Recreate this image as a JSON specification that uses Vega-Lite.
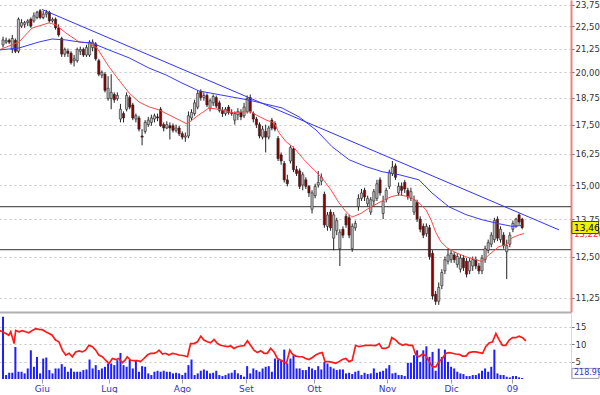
{
  "$schema": "https://vega.github.io/schema/vega-lite/v6.json",
  "padding": {"left": -5, "top": 0, "right": 0, "bottom": 0},
  "spacing": 1,
  "config": {"view": {"stroke": null}, "font": "DejaVu Sans"},
  "datasets": {
    "candles": [
      {"i":0,"o":21.45,"h":21.9,"l":21.3,"c":21.72,"v":1890},
      {"i":1,"o":21.6,"h":21.85,"l":21.5,"c":21.7,"v":120},
      {"i":2,"o":21.7,"h":21.8,"l":21.5,"c":21.6,"v":190},
      {"i":3,"o":21.2,"h":22.0,"l":21.0,"c":21.8,"v":190},
      {"i":4,"o":21.7,"h":21.8,"l":21.0,"c":21.1,"v":970},
      {"i":5,"o":21.1,"h":23.0,"l":21.0,"c":22.9,"v":220},
      {"i":6,"o":22.5,"h":22.9,"l":22.4,"c":22.7,"v":220},
      {"i":7,"o":22.6,"h":22.8,"l":22.4,"c":22.7,"v":170},
      {"i":8,"o":22.7,"h":22.9,"l":22.5,"c":22.8,"v":320},
      {"i":9,"o":22.9,"h":23.0,"l":22.4,"c":22.5,"v":870},
      {"i":10,"o":22.8,"h":23.3,"l":22.7,"c":23.1,"v":370},
      {"i":11,"o":23.0,"h":23.4,"l":22.9,"c":23.3,"v":670},
      {"i":12,"o":23.4,"h":23.5,"l":22.9,"c":23.0,"v":170},
      {"i":13,"o":23.0,"h":23.4,"l":22.9,"c":23.2,"v":620},
      {"i":14,"o":23.2,"h":23.45,"l":23.0,"c":23.3,"v":650},
      {"i":15,"o":23.3,"h":23.4,"l":22.7,"c":22.8,"v":270},
      {"i":16,"o":22.8,"h":23.0,"l":22.7,"c":22.9,"v":170},
      {"i":17,"o":22.9,"h":23.0,"l":22.3,"c":22.4,"v":320},
      {"i":18,"o":22.4,"h":22.6,"l":21.9,"c":22.0,"v":320},
      {"i":19,"o":21.8,"h":21.9,"l":20.8,"c":20.95,"v":450},
      {"i":20,"o":20.95,"h":21.3,"l":20.8,"c":21.2,"v":370},
      {"i":21,"o":21.1,"h":21.25,"l":20.8,"c":21.0,"v":220},
      {"i":22,"o":21.0,"h":21.1,"l":20.4,"c":20.5,"v":320},
      {"i":23,"o":20.6,"h":20.9,"l":20.3,"c":20.7,"v":220},
      {"i":24,"o":20.6,"h":21.3,"l":20.5,"c":21.2,"v":220},
      {"i":25,"o":21.1,"h":21.35,"l":20.9,"c":21.2,"v":220},
      {"i":26,"o":21.2,"h":21.3,"l":20.8,"c":20.9,"v":270},
      {"i":27,"o":20.9,"h":21.45,"l":20.8,"c":21.3,"v":290},
      {"i":28,"o":20.9,"h":21.7,"l":20.8,"c":21.6,"v":590},
      {"i":29,"o":21.3,"h":21.75,"l":21.1,"c":21.6,"v":320},
      {"i":30,"o":21.5,"h":21.6,"l":20.6,"c":20.7,"v":420},
      {"i":31,"o":20.6,"h":20.7,"l":19.8,"c":19.9,"v":270},
      {"i":32,"o":19.85,"h":20.1,"l":19.7,"c":20.0,"v":320},
      {"i":33,"o":19.9,"h":20.0,"l":19.0,"c":19.1,"v":370},
      {"i":34,"o":18.7,"h":19.8,"l":18.6,"c":19.2,"v":470},
      {"i":35,"o":18.7,"h":19.9,"l":18.2,"c":19.0,"v":470},
      {"i":36,"o":18.9,"h":19.0,"l":18.5,"c":18.65,"v":420},
      {"i":37,"o":18.7,"h":19.0,"l":18.6,"c":18.85,"v":570},
      {"i":38,"o":17.75,"h":18.45,"l":17.6,"c":18.2,"v":790},
      {"i":39,"o":18.0,"h":18.1,"l":17.6,"c":17.8,"v":420},
      {"i":40,"o":18.2,"h":19.0,"l":18.1,"c":18.85,"v":370},
      {"i":41,"o":18.75,"h":18.85,"l":18.2,"c":18.3,"v":590},
      {"i":42,"o":18.4,"h":18.5,"l":17.7,"c":17.8,"v":320},
      {"i":43,"o":17.75,"h":18.0,"l":17.6,"c":17.9,"v":570},
      {"i":44,"o":17.8,"h":17.9,"l":17.2,"c":17.3,"v":220},
      {"i":45,"o":17.0,"h":17.3,"l":16.6,"c":16.95,"v":390},
      {"i":46,"o":17.2,"h":17.7,"l":17.1,"c":17.6,"v":370},
      {"i":47,"o":17.5,"h":17.85,"l":17.4,"c":17.7,"v":170},
      {"i":48,"o":17.6,"h":17.95,"l":17.45,"c":17.8,"v":120},
      {"i":49,"o":17.75,"h":18.0,"l":17.6,"c":17.9,"v":220},
      {"i":50,"o":17.85,"h":18.0,"l":17.65,"c":17.8,"v":250},
      {"i":51,"o":18.2,"h":18.3,"l":17.4,"c":17.45,"v":220},
      {"i":52,"o":17.5,"h":17.6,"l":17.2,"c":17.35,"v":250},
      {"i":53,"o":17.35,"h":17.65,"l":17.3,"c":17.5,"v":220},
      {"i":54,"o":17.45,"h":17.6,"l":16.85,"c":17.35,"v":220},
      {"i":55,"o":17.45,"h":17.55,"l":17.15,"c":17.25,"v":170},
      {"i":56,"o":17.25,"h":17.5,"l":17.15,"c":17.35,"v":190},
      {"i":57,"o":17.35,"h":17.45,"l":17.0,"c":17.1,"v":170},
      {"i":58,"o":17.1,"h":17.2,"l":16.85,"c":16.95,"v":120},
      {"i":59,"o":16.95,"h":17.15,"l":16.75,"c":17.0,"v":190},
      {"i":60,"o":17.0,"h":18.1,"l":16.9,"c":17.9,"v":420},
      {"i":61,"o":17.8,"h":18.2,"l":17.7,"c":18.05,"v":590},
      {"i":62,"o":18.0,"h":18.65,"l":17.9,"c":18.5,"v":120},
      {"i":63,"o":18.3,"h":19.1,"l":18.2,"c":18.95,"v":170},
      {"i":64,"o":19.05,"h":19.15,"l":18.6,"c":18.75,"v":250},
      {"i":65,"o":18.75,"h":19.0,"l":18.6,"c":18.85,"v":290},
      {"i":66,"o":18.85,"h":18.95,"l":18.3,"c":18.4,"v":250},
      {"i":67,"o":18.25,"h":18.7,"l":18.1,"c":18.6,"v":170},
      {"i":68,"o":18.5,"h":18.9,"l":18.35,"c":18.8,"v":190},
      {"i":69,"o":18.75,"h":18.85,"l":18.25,"c":18.35,"v":250},
      {"i":70,"o":18.5,"h":18.6,"l":18.05,"c":18.15,"v":120},
      {"i":71,"o":18.15,"h":18.3,"l":17.85,"c":18.0,"v":90},
      {"i":72,"o":18.0,"h":18.3,"l":17.9,"c":18.2,"v":120},
      {"i":73,"o":18.3,"h":18.4,"l":17.95,"c":18.05,"v":170},
      {"i":74,"o":18.05,"h":18.2,"l":17.9,"c":18.0,"v":190},
      {"i":75,"o":17.7,"h":18.1,"l":17.5,"c":18.0,"v":270},
      {"i":76,"o":17.95,"h":18.25,"l":17.7,"c":18.1,"v":170},
      {"i":77,"o":18.05,"h":18.2,"l":17.7,"c":17.85,"v":120},
      {"i":78,"o":17.9,"h":18.5,"l":17.8,"c":18.3,"v":70},
      {"i":79,"o":18.1,"h":18.85,"l":18.0,"c":18.7,"v":390},
      {"i":80,"o":18.75,"h":18.9,"l":18.0,"c":18.1,"v":170},
      {"i":81,"o":18.0,"h":18.1,"l":17.6,"c":17.75,"v":320},
      {"i":82,"o":17.75,"h":17.85,"l":17.35,"c":17.5,"v":270},
      {"i":83,"o":17.5,"h":17.6,"l":16.9,"c":17.0,"v":220},
      {"i":84,"o":16.95,"h":17.45,"l":16.85,"c":17.3,"v":320},
      {"i":85,"o":17.2,"h":17.5,"l":16.3,"c":16.95,"v":370},
      {"i":86,"o":16.95,"h":17.45,"l":16.85,"c":17.35,"v":390},
      {"i":87,"o":17.7,"h":17.8,"l":17.25,"c":17.35,"v":220},
      {"i":88,"o":17.55,"h":17.65,"l":17.2,"c":17.3,"v":620},
      {"i":89,"o":16.9,"h":17.0,"l":15.95,"c":16.05,"v":590},
      {"i":90,"o":16.2,"h":16.3,"l":15.8,"c":15.95,"v":550},
      {"i":91,"o":15.85,"h":15.95,"l":15.1,"c":15.2,"v":890},
      {"i":92,"o":15.2,"h":15.4,"l":14.95,"c":15.05,"v":470},
      {"i":93,"o":15.95,"h":16.6,"l":15.85,"c":16.5,"v":620},
      {"i":94,"o":16.45,"h":16.55,"l":15.5,"c":15.6,"v":720},
      {"i":95,"o":15.6,"h":15.75,"l":15.35,"c":15.45,"v":320},
      {"i":96,"o":15.55,"h":15.65,"l":14.85,"c":14.95,"v":320},
      {"i":97,"o":15.0,"h":15.5,"l":14.8,"c":15.4,"v":270},
      {"i":98,"o":15.2,"h":15.3,"l":14.85,"c":14.95,"v":270},
      {"i":99,"o":14.95,"h":15.0,"l":14.55,"c":14.7,"v":370},
      {"i":100,"o":14.1,"h":14.8,"l":13.95,"c":14.7,"v":320},
      {"i":101,"o":14.6,"h":15.05,"l":14.5,"c":14.95,"v":270},
      {"i":102,"o":15.0,"h":15.55,"l":14.9,"c":15.1,"v":390},
      {"i":103,"o":15.15,"h":15.45,"l":15.0,"c":15.3,"v":290},
      {"i":104,"o":14.65,"h":14.75,"l":13.45,"c":13.55,"v":520},
      {"i":105,"o":13.5,"h":14.0,"l":13.35,"c":13.9,"v":470},
      {"i":106,"o":14.0,"h":14.1,"l":13.35,"c":13.45,"v":370},
      {"i":107,"o":13.1,"h":14.0,"l":12.7,"c":13.9,"v":320},
      {"i":108,"o":13.35,"h":13.8,"l":13.2,"c":13.7,"v":270},
      {"i":109,"o":12.75,"h":13.4,"l":12.2,"c":13.3,"v":290},
      {"i":110,"o":13.4,"h":13.5,"l":13.1,"c":13.2,"v":290},
      {"i":111,"o":13.85,"h":13.95,"l":13.45,"c":13.55,"v":170},
      {"i":112,"o":13.8,"h":13.9,"l":13.1,"c":13.2,"v":190},
      {"i":113,"o":12.75,"h":13.6,"l":12.65,"c":13.5,"v":150},
      {"i":114,"o":13.45,"h":13.7,"l":13.35,"c":13.6,"v":220},
      {"i":115,"o":14.2,"h":14.65,"l":14.05,"c":14.5,"v":250},
      {"i":116,"o":14.5,"h":14.85,"l":14.4,"c":14.7,"v":120},
      {"i":117,"o":14.8,"h":14.9,"l":14.4,"c":14.55,"v":190},
      {"i":118,"o":14.3,"h":14.6,"l":14.2,"c":14.5,"v":150},
      {"i":119,"o":14.0,"h":14.55,"l":13.9,"c":14.45,"v":170},
      {"i":120,"o":14.4,"h":14.85,"l":14.2,"c":14.75,"v":320},
      {"i":121,"o":14.5,"h":15.2,"l":14.4,"c":15.05,"v":190},
      {"i":122,"o":15.2,"h":15.3,"l":14.6,"c":14.7,"v":220},
      {"i":123,"o":13.95,"h":14.6,"l":13.75,"c":14.4,"v":250},
      {"i":124,"o":14.45,"h":14.9,"l":14.35,"c":14.8,"v":320},
      {"i":125,"o":14.95,"h":15.6,"l":14.85,"c":15.5,"v":420},
      {"i":126,"o":15.45,"h":15.95,"l":15.35,"c":15.7,"v":170},
      {"i":127,"o":15.75,"h":15.85,"l":15.2,"c":15.3,"v":190},
      {"i":128,"o":14.7,"h":15.1,"l":14.6,"c":14.95,"v":120},
      {"i":129,"o":14.95,"h":15.1,"l":14.6,"c":14.8,"v":120},
      {"i":130,"o":15.1,"h":15.2,"l":14.7,"c":14.85,"v":90},
      {"i":131,"o":14.8,"h":14.9,"l":14.45,"c":14.55,"v":490},
      {"i":132,"o":14.5,"h":14.9,"l":14.4,"c":14.75,"v":490},
      {"i":133,"o":14.0,"h":14.6,"l":13.9,"c":14.45,"v":720},
      {"i":134,"o":14.35,"h":14.45,"l":13.65,"c":13.75,"v":870},
      {"i":135,"o":13.75,"h":13.85,"l":13.3,"c":13.4,"v":520},
      {"i":136,"o":13.5,"h":13.6,"l":13.1,"c":13.2,"v":870},
      {"i":137,"o":13.25,"h":13.6,"l":13.15,"c":13.5,"v":990},
      {"i":138,"o":13.45,"h":13.55,"l":12.4,"c":12.5,"v":670},
      {"i":139,"o":12.6,"h":12.7,"l":11.2,"c":11.3,"v":820},
      {"i":140,"o":11.35,"h":11.45,"l":11.05,"c":11.15,"v":250},
      {"i":141,"o":11.15,"h":11.7,"l":11.05,"c":11.55,"v":920},
      {"i":142,"o":11.6,"h":12.1,"l":11.5,"c":12.0,"v":670},
      {"i":143,"o":12.05,"h":12.5,"l":11.95,"c":12.4,"v":890},
      {"i":144,"o":12.35,"h":12.75,"l":12.25,"c":12.55,"v":520},
      {"i":145,"o":12.4,"h":12.7,"l":12.3,"c":12.6,"v":370},
      {"i":146,"o":12.55,"h":12.65,"l":12.3,"c":12.4,"v":320},
      {"i":147,"o":12.25,"h":12.6,"l":12.15,"c":12.5,"v":220},
      {"i":148,"o":12.1,"h":12.55,"l":12.0,"c":12.45,"v":170},
      {"i":149,"o":12.45,"h":12.55,"l":12.05,"c":12.15,"v":150},
      {"i":150,"o":12.35,"h":12.45,"l":11.85,"c":11.95,"v":90},
      {"i":151,"o":12.05,"h":12.45,"l":11.95,"c":12.35,"v":90},
      {"i":152,"o":12.2,"h":12.5,"l":12.05,"c":12.4,"v":120},
      {"i":153,"o":12.4,"h":12.5,"l":12.1,"c":12.2,"v":120},
      {"i":154,"o":12.2,"h":12.3,"l":11.95,"c":12.05,"v":170},
      {"i":155,"o":12.05,"h":12.55,"l":11.95,"c":12.45,"v":250},
      {"i":156,"o":12.4,"h":12.85,"l":12.3,"c":12.75,"v":320},
      {"i":157,"o":12.7,"h":13.05,"l":12.6,"c":12.95,"v":220},
      {"i":158,"o":12.9,"h":13.3,"l":12.8,"c":13.2,"v":370},
      {"i":159,"o":13.05,"h":13.8,"l":12.95,"c":13.7,"v":890},
      {"i":160,"o":13.75,"h":13.85,"l":13.0,"c":13.1,"v":170},
      {"i":161,"o":13.05,"h":13.5,"l":12.95,"c":13.4,"v":120},
      {"i":162,"o":13.2,"h":13.3,"l":12.75,"c":12.85,"v":120},
      {"i":163,"o":12.65,"h":13.05,"l":11.8,"c":12.85,"v":70},
      {"i":164,"o":12.9,"h":13.3,"l":12.8,"c":13.2,"v":50},
      {"i":165,"o":13.4,"h":13.7,"l":13.3,"c":13.6,"v":90},
      {"i":166,"o":13.5,"h":13.8,"l":13.45,"c":13.75,"v":90},
      {"i":167,"o":13.9,"h":13.95,"l":13.55,"c":13.65,"v":50},
      {"i":168,"o":13.75,"h":13.8,"l":13.4,"c":13.46,"v":30}
    ],
    "ma1": [
      {"i":-1.3,"p":21.17},{"i":5.2,"p":21.61},{"i":9.4,"p":22.39},{"i":14.9,"p":22.69},{"i":17.2,"p":22.56},
      {"i":20.4,"p":22.1},{"i":24.6,"p":21.61},{"i":27.8,"p":21.55},{"i":30.4,"p":21.28},{"i":34.3,"p":20.28},
      {"i":37.5,"p":19.61},{"i":40.8,"p":18.97},{"i":44,"p":18.54},{"i":47.2,"p":18.31},{"i":50.5,"p":18.17},
      {"i":53.7,"p":17.94},{"i":57,"p":17.71},{"i":59.5,"p":17.53},{"i":63.4,"p":17.94},{"i":66.7,"p":18.26},
      {"i":70.9,"p":18.17},{"i":74.1,"p":18.03},{"i":77.3,"p":18.08},{"i":80.3,"p":18.08},{"i":81.9,"p":17.94},
      {"i":85.1,"p":17.71},{"i":87.7,"p":17.58},{"i":89.3,"p":17.14},{"i":91.6,"p":16.75},{"i":94.2,"p":16.49},
      {"i":97.4,"p":16.0},{"i":100.6,"p":15.6},{"i":103.2,"p":15.28},{"i":106.1,"p":14.82},{"i":108.7,"p":14.34},
      {"i":111,"p":14.01},{"i":112.9,"p":13.82},{"i":115.9,"p":13.96},{"i":119.1,"p":14.19},{"i":122.3,"p":14.38},
      {"i":125.6,"p":14.56},{"i":128.2,"p":14.63},{"i":131.4,"p":14.56},{"i":134.6,"p":14.34},{"i":136.9,"p":14.08},
      {"i":138.5,"p":13.73},{"i":140.1,"p":13.28},{"i":141.7,"p":12.98},{"i":143.7,"p":12.78},{"i":146.6,"p":12.62},
      {"i":149.8,"p":12.49},{"i":153.1,"p":12.4},{"i":155,"p":12.34},{"i":157.3,"p":12.56},{"i":160.5,"p":12.82},
      {"i":162.8,"p":12.88},{"i":164.7,"p":13.11},{"i":167,"p":13.21},{"i":168.6,"p":13.25}
    ],
    "ma2": [
      {"i":-1.3,"p":21.17},{"i":5.2,"p":21.28},{"i":11.7,"p":21.61},{"i":15.9,"p":21.77},{"i":20.4,"p":21.72},
      {"i":24.6,"p":21.61},{"i":28.8,"p":21.55},{"i":34.3,"p":21.17},{"i":40.8,"p":20.75},{"i":47.2,"p":20.22},
      {"i":52.8,"p":19.86},{"i":57.9,"p":19.46},{"i":63.4,"p":19.07},{"i":79.6,"p":18.63},{"i":90.3,"p":18.26},
      {"i":95.8,"p":17.85},{"i":101.3,"p":17.26},{"i":106.5,"p":16.54},{"i":112,"p":16.0},{"i":117.5,"p":15.72},
      {"i":122.7,"p":15.52},{"i":128.2,"p":15.4},{"i":134.6,"p":15.2},{"i":138.8,"p":14.7},{"i":144.3,"p":14.19},
      {"i":149.8,"p":13.91},{"i":155,"p":13.73},{"i":160.5,"p":13.59},{"i":164.7,"p":13.5},{"i":168,"p":13.53}
    ],
    "trend": [{"i":12.6,"p":23.48},{"i":179.9,"p":13.38}],
    "levels": [{"p":14.2},{"p":12.72}],
    "ind": [
      {"i":-1.3,"v":14.0},{"i":-0.2,"v":13.6},{"i":0.9,"v":13.1},{"i":1.9,"v":12.6},{"i":2.5,"v":13.6},{"i":3.0,"v":12.1},
      {"i":3.6,"v":10.2},{"i":4.1,"v":14.0},{"i":5.2,"v":13.6},{"i":6.3,"v":13.9},{"i":7.3,"v":13.6},{"i":8.4,"v":13.3},
      {"i":9.5,"v":14.0},{"i":10.6,"v":14.5},{"i":11.6,"v":14.3},{"i":12.7,"v":14.2},{"i":13.8,"v":13.6},{"i":14.9,"v":13.1},
      {"i":15.9,"v":12.6},{"i":17.0,"v":11.2},{"i":18.1,"v":10.7},{"i":19.2,"v":8.3},{"i":20.3,"v":6.9},{"i":21.4,"v":7.4},
      {"i":22.4,"v":6.4},{"i":23.5,"v":7.8},{"i":24.6,"v":8.1},{"i":25.7,"v":7.8},{"i":26.7,"v":8.3},{"i":27.8,"v":9.7},
      {"i":28.9,"v":9.3},{"i":30.0,"v":8.3},{"i":31.0,"v":6.9},{"i":32.1,"v":6.4},{"i":33.2,"v":5.4},{"i":34.3,"v":4.5},
      {"i":35.4,"v":5.9},{"i":36.5,"v":5.6},{"i":37.5,"v":5.9},{"i":38.6,"v":4.7},{"i":39.5,"v":5.4},{"i":40.2,"v":6.4},
      {"i":41.3,"v":5.4},{"i":42.4,"v":5.3},{"i":43.5,"v":5.3},{"i":44.5,"v":5.0},{"i":45.6,"v":5.9},{"i":46.7,"v":6.9},
      {"i":47.8,"v":7.4},{"i":48.9,"v":7.4},{"i":49.9,"v":7.8},{"i":50.5,"v":8.3},{"i":51.6,"v":7.2},{"i":52.6,"v":7.4},
      {"i":53.7,"v":6.9},{"i":54.8,"v":7.4},{"i":55.9,"v":7.2},{"i":56.9,"v":6.9},{"i":58.6,"v":6.7},{"i":59.7,"v":6.4},
      {"i":60.7,"v":10.2},{"i":61.8,"v":10.2},{"i":62.9,"v":10.7},{"i":64.0,"v":12.3},{"i":65.0,"v":11.2},{"i":66.1,"v":10.7},
      {"i":67.2,"v":10.4},{"i":68.3,"v":11.4},{"i":69.4,"v":10.2},{"i":70.4,"v":9.7},{"i":71.5,"v":9.5},{"i":72.6,"v":9.3},
      {"i":73.7,"v":9.5},{"i":74.7,"v":8.8},{"i":75.8,"v":9.3},{"i":76.9,"v":9.5},{"i":78.0,"v":9.6},{"i":79.1,"v":11.0},
      {"i":80.1,"v":9.7},{"i":81.2,"v":8.3},{"i":82.3,"v":7.6},{"i":83.4,"v":8.1},{"i":84.5,"v":7.4},{"i":85.5,"v":7.4},
      {"i":86.6,"v":8.8},{"i":87.7,"v":7.8},{"i":88.8,"v":5.9},{"i":89.9,"v":5.4},{"i":90.9,"v":5.0},{"i":91.7,"v":4.5},
      {"i":92.8,"v":8.3},{"i":93.6,"v":7.2},{"i":94.7,"v":6.6},{"i":95.8,"v":6.4},{"i":96.9,"v":6.4},{"i":97.9,"v":5.9},
      {"i":99.0,"v":5.6},{"i":100.1,"v":6.2},{"i":101.2,"v":6.9},{"i":102.3,"v":7.4},{"i":103.3,"v":7.6},{"i":104.2,"v":5.0},
      {"i":105.5,"v":5.0},{"i":106.6,"v":4.8},{"i":107.6,"v":4.5},{"i":108.7,"v":5.0},{"i":109.8,"v":5.6},{"i":110.9,"v":5.9},
      {"i":112.0,"v":5.0},{"i":113.0,"v":5.4},{"i":114.1,"v":9.7},{"i":115.2,"v":9.3},{"i":116.3,"v":9.5},{"i":117.3,"v":9.7},
      {"i":118.4,"v":9.7},{"i":119.5,"v":9.7},{"i":120.6,"v":9.6},{"i":121.7,"v":10.2},{"i":122.7,"v":8.8},{"i":123.8,"v":8.8},
      {"i":124.9,"v":9.3},{"i":125.8,"v":11.9},{"i":127.1,"v":11.2},{"i":128.2,"v":10.2},{"i":129.3,"v":9.7},{"i":130.3,"v":10.0},
      {"i":131.4,"v":9.7},{"i":132.5,"v":9.7},{"i":133.6,"v":6.9},{"i":134.6,"v":6.4},{"i":135.7,"v":7.1},{"i":136.8,"v":6.7},
      {"i":137.9,"v":5.0},{"i":139.0,"v":3.5},{"i":140.0,"v":3.5},{"i":141.1,"v":5.0},{"i":142.2,"v":5.9},{"i":143.3,"v":7.4},
      {"i":144.4,"v":7.6},{"i":145.4,"v":7.4},{"i":146.5,"v":7.2},{"i":147.6,"v":7.1},{"i":148.7,"v":6.6},{"i":149.8,"v":6.6},
      {"i":150.8,"v":7.6},{"i":151.9,"v":7.8},{"i":153.0,"v":7.8},{"i":154.1,"v":7.6},{"i":155.2,"v":7.4},{"i":156.2,"v":9.3},
      {"i":157.3,"v":10.4},{"i":158.4,"v":10.7},{"i":159.5,"v":13.1},{"i":160.6,"v":11.2},{"i":161.6,"v":9.7},{"i":162.7,"v":9.7},
      {"i":163.8,"v":11.2},{"i":164.9,"v":11.9},{"i":165.9,"v":11.9},{"i":167.0,"v":12.3},{"i":168.1,"v":11.9},{"i":169.2,"v":11.0}
    ],
    "tagLast": [{"i":183.8,"p":13.46,"t":"13,46"}],
    "tagMa": [{"i":183.8,"p":13.226,"t":"13,226"}],
    "tagVol": [{"i":183.8,"v":170,"t":"218.99"}]
  },
  "vconcat": [
    {
      "width": 572,
      "height": 312,
      "layer": [
        {
          "data": {"name": "levels"},
          "mark": {"type": "rule", "color": "#5a5a5a", "strokeWidth": 1.2},
          "encoding": {
            "y": {"field": "p", "type": "quantitative", "title": null,
              "scale": {"type": "log", "domain": [10.85, 24.05], "nice": false},
              "axis": {"orient": "right", "values": [11.25, 12.5, 13.75, 15, 16.25, 17.5, 18.75, 20, 21.25, 22.5, 23.75],
                "labelExpr": "replace(format(datum.value, '.2f'), '.', ',')",
                "grid": true, "gridColor": "#c4c4c4", "gridDash": [2, 3], "gridWidth": 1,
                "tickSize": 3, "tickColor": "#777", "domainColor": "#f08080", "domainWidth": 2,
                "labelFont": "DejaVu Sans", "labelFontSize": 8.5, "labelColor": "#333", "labelPadding": 1, "labelFlush": false, "labelOverlap": false}}
          }
        },
        {
          "data": {"name": "candles"},
          "mark": {"type": "rule", "color": "#222", "strokeWidth": 1},
          "encoding": {
            "x": {"field": "i", "type": "quantitative", "title": null,
              "scale": {"domain": [-1.3, 183.8], "nice": false, "zero": false, "padding": 0},
              "axis": {"labels": false, "ticks": false, "grid": false, "domain": true, "domainColor": "#b0b0b0", "domainWidth": 2}},
            "y": {"field": "l", "type": "quantitative", "title": null},
            "y2": {"field": "h"}
          }
        },
        {
          "data": {"name": "candles"},
          "mark": {"type": "bar", "size": 2.2, "stroke": "#222", "strokeWidth": 0.6},
          "encoding": {
            "x": {"field": "i", "type": "quantitative", "title": null},
            "y": {"field": "o", "type": "quantitative", "title": null},
            "y2": {"field": "c"},
            "fill": {"condition": {"test": "datum.c >= datum.o", "value": "#bcbcbc"}, "value": "#8e0000"}
          }
        },
        {
          "data": {"name": "ma1"},
          "mark": {"type": "line", "color": "#ff4a4a", "strokeWidth": 1},
          "encoding": {
            "x": {"field": "i", "type": "quantitative", "title": null},
            "y": {"field": "p", "type": "quantitative", "title": null}
          }
        },
        {
          "data": {"name": "ma2"},
          "mark": {"type": "line", "color": "#3a3aff", "strokeWidth": 1},
          "encoding": {
            "x": {"field": "i", "type": "quantitative", "title": null},
            "y": {"field": "p", "type": "quantitative", "title": null}
          }
        },
        {
          "data": {"name": "trend"},
          "mark": {"type": "line", "color": "#3333ff", "strokeWidth": 1},
          "encoding": {
            "x": {"field": "i", "type": "quantitative", "title": null},
            "y": {"field": "p", "type": "quantitative", "title": null}
          }
        },
        {
          "data": {"name": "tagMa"},
          "mark": {"type": "text", "align": "left", "baseline": "middle", "dx": 3, "fontSize": 8.5, "color": "#ff2a2a", "font": "DejaVu Sans"},
          "encoding": {
            "x": {"field": "i", "type": "quantitative", "title": null},
            "y": {"field": "p", "type": "quantitative", "title": null},
            "text": {"field": "t"}
          }
        },
        {
          "data": {"name": "tagLast"},
          "mark": {"type": "point", "shape": "M0.15,-1L4.6,-1L4.6,1L0.15,1Z", "size": 144, "filled": true, "fill": "#f2f200", "stroke": "#444", "strokeWidth": 1, "opacity": 1},
          "encoding": {
            "x": {"field": "i", "type": "quantitative", "title": null},
            "y": {"field": "p", "type": "quantitative", "title": null}
          }
        },
        {
          "data": {"name": "tagLast"},
          "mark": {"type": "text", "align": "left", "baseline": "middle", "dx": 3, "fontSize": 9, "color": "#000", "font": "DejaVu Sans"},
          "encoding": {
            "x": {"field": "i", "type": "quantitative", "title": null},
            "y": {"field": "p", "type": "quantitative", "title": null},
            "text": {"field": "t"}
          }
        }
      ]
    },
    {
      "width": 572,
      "height": 66,
      "resolve": {"scale": {"y": "independent"}},
      "layer": [
        {
          "layer": [
            {
              "data": {"name": "candles"},
              "mark": {"type": "bar", "size": 2, "color": "#1e1eff"},
              "encoding": {
                "x": {"field": "i", "type": "quantitative", "title": null,
                  "scale": {"domain": [-1.3, 183.8], "nice": false, "zero": false, "padding": 0},
                  "axis": {"values": [12.6, 34.3, 57.9, 78.6, 100.6, 124.3, 145, 164.7],
                    "labelExpr": "datum.value < 20 ? 'Giu' : datum.value < 45 ? 'Lug' : datum.value < 68 ? 'Ago' : datum.value < 90 ? 'Set' : datum.value < 112 ? 'Ott' : datum.value < 135 ? 'Nov' : datum.value < 155 ? 'Dic' : '09'",
                    "grid": false, "domain": false, "tickSize": 4, "tickColor": "#999", "labelFlush": false,
                    "labelFont": "DejaVu Sans", "labelFontSize": 9, "labelColor": "#3434c8", "labelPadding": 1}},
                "y": {"field": "v", "type": "quantitative", "axis": null,
                  "scale": {"domain": [0, 2000], "nice": false}}
              }
            },
            {
              "data": {"name": "tagVol"},
              "mark": {"type": "point", "shape": "M0.2,-1L5.6,-1L5.6,1L0.2,1Z", "size": 100, "filled": true, "fill": "#ffffff", "stroke": "#9a9ab0", "strokeWidth": 1, "opacity": 1},
              "encoding": {
                "x": {"field": "i", "type": "quantitative", "title": null},
                "y": {"field": "v", "type": "quantitative", "axis": null}
              }
            },
            {
              "data": {"name": "tagVol"},
              "mark": {"type": "text", "align": "left", "baseline": "middle", "dx": 3, "fontSize": 8, "color": "#3434c8", "font": "DejaVu Sans"},
              "encoding": {
                "x": {"field": "i", "type": "quantitative", "title": null},
                "y": {"field": "v", "type": "quantitative", "axis": null},
                "text": {"field": "t"}
              }
            }
          ]
        },
        {
          "data": {"name": "ind"},
          "mark": {"type": "line", "color": "#ff1a1a", "strokeWidth": 1.7},
          "encoding": {
            "x": {"field": "i", "type": "quantitative", "title": null},
            "y": {"field": "v", "type": "quantitative", "title": null,
              "scale": {"domain": [0, 19], "nice": false},
              "axis": {"orient": "right", "values": [5, 10, 15],
                "grid": true, "gridColor": "#c4c4c4", "gridDash": [2, 3], "labelOverlap": false, "labelFlush": false,
                "tickSize": 3, "tickColor": "#777", "domainColor": "#d8d8d8",
                "labelFont": "DejaVu Sans", "labelFontSize": 8.5, "labelColor": "#333", "labelPadding": 1}}
          }
        }
      ]
    }
  ]
}
